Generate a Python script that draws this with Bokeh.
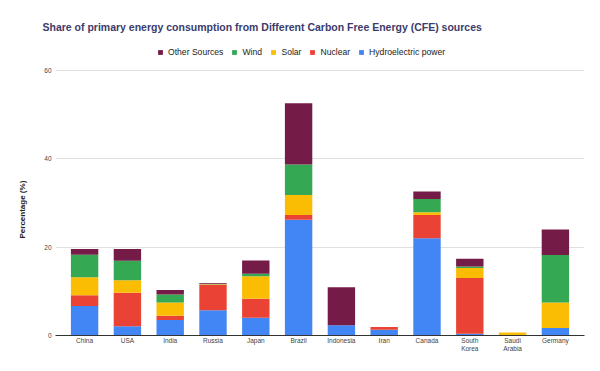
from bokeh.plotting import figure
from bokeh.models import FactorRange, Range1d, Legend, LegendItem, Title, FixedTicker
from bokeh.embed import file_html
from bokeh.resources import INLINE

countries = ["China", "USA", "India", "Russia", "Japan", "Brazil", "Indonesia",
             "Iran", "Canada", "South\nKorea", "Saudi\nArabia", "Germany"]
hydro = [6.7, 2.1, 3.5, 5.7, 4.0, 26.2, 2.3, 1.3, 22.0, 0.4, 0.0, 1.7]
nuclear = [2.4, 7.6, 1.0, 5.8, 4.3, 1.1, 0.0, 0.6, 5.3, 12.6, 0.0, 0.0]
solar = [4.1, 2.8, 3.0, 0.1, 5.1, 4.5, 0.0, 0.0, 0.6, 2.3, 0.7, 5.8]
wind = [5.1, 4.4, 1.8, 0.1, 0.6, 6.9, 0.0, 0.0, 3.0, 0.3, 0.0, 10.7]
other = [1.3, 2.7, 1.0, 0.2, 3.0, 13.9, 8.6, 0.0, 1.7, 1.8, 0.0, 5.8]
y_ticks = [0, 20, 40, 60]

series = ["hydro", "nuclear", "solar", "wind", "other"]
names = ["Hydroelectric power", "Nuclear", "Solar", "Wind", "Other Sources"]
colors = ["#4285F4", "#EA4335", "#FBBC04", "#34A853", "#741B47"]

data = dict(country=countries, hydro=hydro, nuclear=nuclear, solar=solar,
            wind=wind, other=other)

FONT = "Liberation Sans"
FRAME_H = 289          # frame spans from just under the title to the baseline
AXIS_PX = 265          # pixels used by the 0..60 value scale
LEGEND_H = 10

p = figure(x_range=FactorRange(*countries, range_padding=0.03),
           y_range=Range1d(0, 60 * FRAME_H / AXIS_PX),
           frame_width=529, frame_height=FRAME_H,
           min_border_left=53, min_border_right=18,
           min_border_top=46, min_border_bottom=36,
           output_backend="svg", toolbar_location=None)
p.title = None
p.outline_line_color = None
p.background_fill_color = "white"
p.border_fill_color = "white"

renderers = p.vbar_stack(series, x="country", width=0.64, color=colors,
                         line_color=None, source=data)

p.xgrid.grid_line_color = None
p.ygrid.grid_line_color = "#e0e0e0"
p.ygrid.ticker = FixedTicker(ticks=y_ticks)

p.yaxis.ticker = FixedTicker(ticks=y_ticks)
p.yaxis.axis_line_color = None
p.yaxis.major_tick_line_color = None
p.yaxis.major_tick_out = 0
p.yaxis.major_tick_in = 0
p.yaxis.minor_tick_line_color = None
p.yaxis.major_label_text_font = FONT
p.yaxis.major_label_text_font_size = "6.5px"
p.yaxis.major_label_text_color = "#444444"
p.yaxis.major_label_standoff = 4

p.xaxis.axis_line_color = "#333333"
p.xaxis.major_tick_line_color = None
p.xaxis.major_tick_out = 0
p.xaxis.major_tick_in = 0
p.xaxis.minor_tick_line_color = None
p.xaxis.major_label_text_font = FONT
p.xaxis.major_label_text_font_size = "6.5px"
p.xaxis.major_label_text_color = "#444444"
p.xaxis.major_label_standoff = 1

ytitle = Title(text="Percentage (%)", align="left", offset=97, standoff=30,
               text_font=FONT, text_font_size="8px", text_font_style="bold",
               text_color="#222222")
p.add_layout(ytitle, "left")

title = Title(text="Share of primary energy consumption from Different Carbon Free Energy (CFE) sources",
              align="left", offset=-13, standoff=27,
              text_font=FONT, text_font_size="10.5px", text_font_style="bold",
              text_color="#3b3b6b")
p.add_layout(title, "above")

items = [LegendItem(label=n, renderers=[r]) for n, r in zip(names, renderers)][::-1]
legend = Legend(items=items, orientation="horizontal",
                location=(102, FRAME_H - 1 - LEGEND_H),
                padding=0, margin=0, spacing=8, label_standoff=5,
                glyph_width=6, glyph_height=6, label_height=LEGEND_H,
                label_text_font=FONT, label_text_font_size="8.6px",
                label_text_color="#222222",
                background_fill_alpha=0, border_line_color=None)
p.add_layout(legend, "center")

open("out.html", "w").write(file_html(p, INLINE))
